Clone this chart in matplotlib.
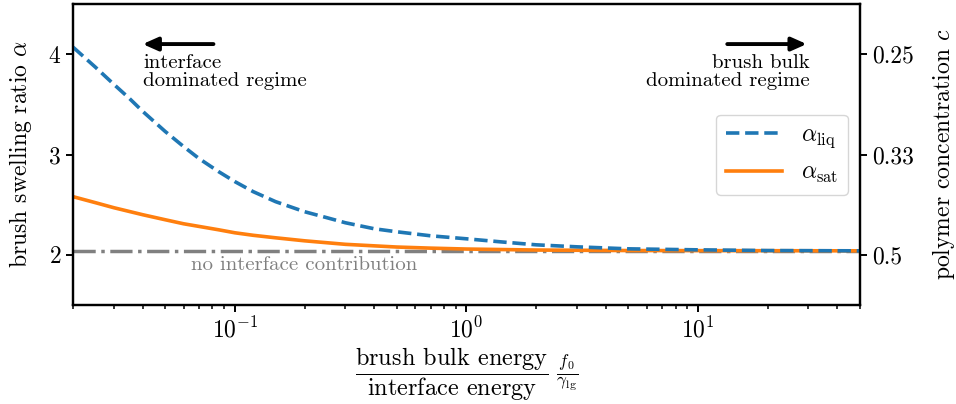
import matplotlib
matplotlib.use("Agg")
import matplotlib.pyplot as plt

plt.rcParams["font.family"] = "serif"
plt.rcParams["font.serif"] = ["cmr10"]
plt.rcParams["mathtext.fontset"] = "cm"
plt.rcParams["axes.formatter.use_mathtext"] = True
plt.rcParams["axes.unicode_minus"] = False
plt.rcParams["axes.linewidth"] = 1.6
plt.rcParams["xtick.major.width"] = 1.4
plt.rcParams["ytick.major.width"] = 1.4
plt.rcParams["xtick.minor.width"] = 1.1
plt.rcParams["xtick.major.size"] = 5
plt.rcParams["ytick.major.size"] = 5
plt.rcParams["xtick.minor.size"] = 3

# energy ratio f0 / gamma_lg
x_liq = [0.02, 0.025, 0.03, 0.035, 0.04, 0.05, 0.06, 0.07, 0.085, 0.1, 0.12, 0.15, 0.2, 0.25, 0.3,
         0.4, 0.5, 0.7, 1.0, 1.4, 2.0, 3.0, 5.0, 10.0, 20.0, 50.0]
alpha_liq = [4.07, 3.87, 3.70, 3.56, 3.43, 3.23, 3.08, 2.96, 2.83, 2.73, 2.63, 2.53, 2.43, 2.37, 2.32,
             2.26, 2.23, 2.19, 2.16, 2.13, 2.10, 2.08, 2.06, 2.05, 2.043, 2.04]

x_sat = [0.02, 0.025, 0.03, 0.04, 0.05, 0.06, 0.085, 0.1, 0.12, 0.15, 0.2, 0.3, 0.5, 0.7, 1.0,
         2.0, 5.0, 50.0]
alpha_sat = [2.58, 2.52, 2.47, 2.40, 2.35, 2.31, 2.25, 2.22, 2.195, 2.17, 2.14, 2.105, 2.078, 2.067, 2.058,
             2.048, 2.043, 2.04]

alpha_bulk = 2.04
alpha_ticks = [4, 3, 2]


def plot_swelling(out_plot="out.png"):
    fig = plt.figure(figsize=(9.56, 4.04), dpi=100)
    ax = fig.add_axes([0.0764, 0.245, 0.823, 0.745])

    ax.axhline(alpha_bulk, color="gray", ls="-.", lw=2.5, zorder=1)
    ax.plot(x_liq, alpha_liq, ls="--", lw=2.6, color="tab:blue", label=r"$\alpha_\mathrm{liq}$", zorder=3)
    ax.plot(x_sat, alpha_sat, ls="-", lw=2.6, color="tab:orange", label=r"$\alpha_\mathrm{sat}$", zorder=2)

    ax.text(0.2, 1.9, "no interface contribution", color="gray", fontsize=15,
            ha="center", va="center")

    ax.set_xscale("log")
    ax.set_xlim(0.02, 50)
    ax.set_ylim(1.5, 4.5)
    ax.set_yticks(alpha_ticks)
    ax.tick_params(labelsize=17)
    ax.set_ylabel(r"brush swelling ratio $\alpha$", fontsize=17, labelpad=10)
    ax.set_xlabel(r"$\dfrac{\text{brush bulk energy}}{\text{interface energy}}\ \frac{f_0}{\gamma_\mathrm{lg}}$",
                  fontsize=17.5, labelpad=2)

    # regime arrows
    arrow = dict(arrowstyle="-|>,head_length=0.9,head_width=0.4", color="black", lw=2.8)
    ax.annotate("", xy=(0.085, 0.867), xytext=(0.182, 0.867), xycoords="axes fraction", arrowprops=arrow)
    ax.text(0.089, 0.835, "interface\ndominated regime", transform=ax.transAxes,
            fontsize=15, ha="left", va="top", linespacing=1.05)
    ax.annotate("", xy=(0.936, 0.867), xytext=(0.828, 0.867), xycoords="axes fraction", arrowprops=arrow)
    ax.text(0.936, 0.835, "brush bulk\ndominated regime", transform=ax.transAxes,
            fontsize=15, ha="right", va="top", linespacing=1.05)

    ax.legend(loc="center right", fontsize=17, handlelength=2.4)

    ax2 = ax.twinx()
    ax2.set_ylim(ax.get_ylim())
    ax2.set_yticks(alpha_ticks)
    ax2.set_yticklabels([f"{1 / a:.2g}" for a in alpha_ticks])
    ax2.tick_params(labelsize=17)
    ax2.set_ylabel(r"polymer concentration $c$", fontsize=17, labelpad=12)

    fig.savefig(out_plot, dpi=100)


if __name__ == "__main__":
    plot_swelling()
